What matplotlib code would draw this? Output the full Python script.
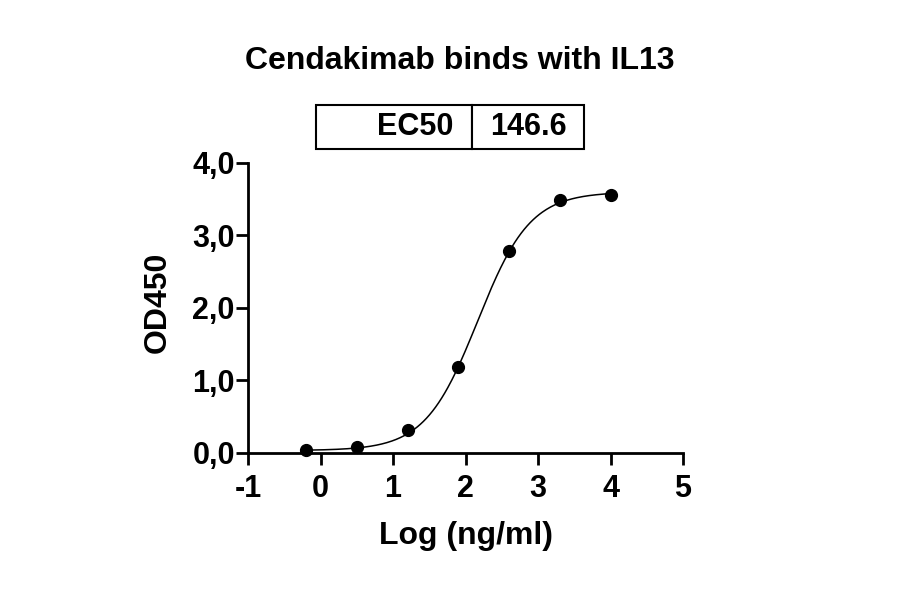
import matplotlib
matplotlib.use("Agg")
import matplotlib.pyplot as plt
import numpy as np
from matplotlib.ticker import FuncFormatter

plt.rcParams["font.family"] = ["Liberation Sans", "DejaVu Sans"]
plt.rcParams["font.weight"] = "bold"
plt.rcParams["axes.unicode_minus"] = False

# 5倍希釈系列（log10 ng/ml）と OD450
log_conc = [-0.194, 0.505, 1.204, 1.903, 2.602, 3.301, 4.0]
od450 = [0.037, 0.083, 0.31, 1.19, 2.78, 3.49, 3.56]

# 4パラメータロジスティックの当てはめ値
EC50 = 146.6
FIT_BOTTOM = 0.03
FIT_TOP = 3.60
FIT_HILL = 1.2

x_ticks = [-1, 0, 1, 2, 3, 4, 5]
y_ticks = [0, 1, 2, 3, 4]

LINE_W = 2.0

fig = plt.figure(figsize=(9, 5.94), dpi=100)
ax = fig.add_axes([0.2756, 0.2379, 0.4833, 0.4877])

xs = np.linspace(log_conc[0], log_conc[-1], 300)
fit = FIT_BOTTOM + (FIT_TOP - FIT_BOTTOM) / (
    1 + 10 ** ((np.log10(EC50) - xs) * FIT_HILL))
ax.plot(xs, fit, color="black", linewidth=1.1, clip_on=False, zorder=2)
ax.plot(log_conc, od450, "o", color="black", markersize=8.5,
        clip_on=False, zorder=3)

ax.set_xlim(-1, 5)
ax.set_ylim(0, 4)
ax.set_xticks(x_ticks)
ax.set_yticks(y_ticks)
ax.yaxis.set_major_formatter(FuncFormatter(
    lambda v, pos: f"{v:.1f}".replace(".", ",")))
for side in ("top", "right"):
    ax.spines[side].set_visible(False)
for side in ("left", "bottom"):
    ax.spines[side].set_linewidth(LINE_W)
ax.tick_params(axis="both", direction="out", length=8.5, width=LINE_W,
               labelsize=22)
ax.tick_params(axis="x", pad=7)
ax.tick_params(axis="y", pad=1)
for label in ax.get_xticklabels() + ax.get_yticklabels():
    label.set_fontweight("bold")

ax.set_xlabel("Log (ng/ml)", fontsize=23, fontweight="bold", labelpad=12)
ax.set_ylabel("OD450", fontsize=23, fontweight="bold")
ax.yaxis.set_label_coords(-0.172, 0.52)

fig.text(0.511, 0.898, "Cendakimab binds with IL13", ha="center",
         va="center", fontsize=23, fontweight="bold")

# EC50 の表
table = ax.table(cellText=[["EC50", f"{EC50:.1f}"]],
                 cellLoc="right", colWidths=[0.584, 0.416],
                 bbox=[0.1556, 1.0497, 0.617, 0.149])
table.auto_set_font_size(False)
for (row, col), cell in table.get_celld().items():
    cell.set_linewidth(1.5)
    cell.get_text().set_fontsize(22)
    cell.get_text().set_fontweight("bold")
    cell.PAD = 0.12
    if col == 1:
        cell.get_text().set_horizontalalignment("center")
        cell._loc = "center"

fig.savefig("out.png", dpi=100)
